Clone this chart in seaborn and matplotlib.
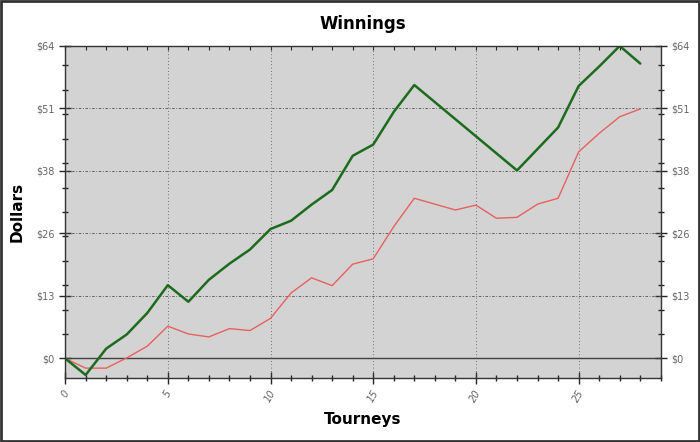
import seaborn as sns
import matplotlib.pyplot as plt
import matplotlib.ticker as mticker
import pandas as pd

# Tourney index and cumulative winnings
tourneys = list(range(29))
green = [0, -3.4, 2.0, 4.9, 9.3, 15.0, 11.6, 16.1, 19.4, 22.3, 26.5, 28.2, 31.5, 34.5,
         41.5, 43.8, 50.5, 56.0, 52.5, 49.0, 45.5, 42.0, 38.5, 42.9, 47.3, 55.8, 59.8, 64.0, 60.4]
red = [0, -2.0, -2.0, 0.1, 2.5, 6.6, 5.0, 4.4, 6.1, 5.7, 8.2, 13.4, 16.5, 14.9,
       19.3, 20.4, 27.0, 32.8, 31.6, 30.4, 31.4, 28.7, 28.9, 31.6, 32.8, 42.3, 46.1, 49.5, 51.1]

df = pd.DataFrame({'t': tourneys, 'green': green, 'red': red})

sns.set_style("white")
plt.rcParams['font.family'] = ['DejaVu Sans']

fig = plt.figure(figsize=(7, 4.42), dpi=100)
ax = fig.add_axes([0.093, 0.145, 0.851, 0.751])
ax.set_facecolor('#d3d3d3')

sns.lineplot(data=df, x='t', y='red', color='#e8605f', linewidth=1.0, ax=ax)
sns.lineplot(data=df, x='t', y='green', color='#1d6b1d', linewidth=1.8, ax=ax)

ax.axhline(0, color='#404040', linewidth=1.0, zorder=1)

ax.set_xlim(0, 29)
ax.set_ylim(-4, 64)

yticks = [0, 12.8, 25.6, 38.4, 51.2, 64]
ylabels = ['$0', '$13', '$26', '$38', '$51', '$64']
ax.set_yticks(yticks)
ax.set_yticklabels(ylabels)
ax.yaxis.set_minor_locator(mticker.MultipleLocator(5))
ax.set_xticks([0, 5, 10, 15, 20, 25])
ax.xaxis.set_minor_locator(mticker.MultipleLocator(1))

for y in yticks[1:]:
    ax.axhline(y, color='#505050', linewidth=0.6, linestyle=(0, (3, 2, 1, 2)), zorder=1)
for x in [5, 10, 15, 20, 25]:
    ax.axvline(x, color='#505050', linewidth=0.6, linestyle=(0, (1, 3)), zorder=1)

ax.tick_params(axis='y', which='major', direction='inout', length=8, width=1,
               labelsize=7, labelcolor='#666666', left=True, right=True,
               labelleft=True, labelright=True)
ax.tick_params(axis='y', which='minor', direction='inout', length=5, width=1,
               left=True, right=True)
ax.tick_params(axis='x', which='major', direction='inout', length=8, width=1,
               labelsize=7, labelcolor='#666666', bottom=True, top=False)
ax.tick_params(axis='x', which='minor', direction='inout', length=5, width=1,
               bottom=True, top=False)

# small inward ticks along the top edge
top = ax.secondary_xaxis('top')
top.set_xticks(tourneys)
top.tick_params(direction='in', length=3, width=0.8, labeltop=False)
top.spines['top'].set_visible(False)

for lab in ax.get_xticklabels():
    lab.set_rotation(60)
    lab.set_style('italic')

for s in ax.spines.values():
    s.set_color('#333333')
    s.set_linewidth(1.0)

ax.set_title('Winnings', fontsize=12, fontweight='bold', pad=12, color='black')
ax.set_xlabel('Tourneys', fontsize=11, fontweight='bold', labelpad=6, color='black')
ax.set_ylabel('Dollars', fontsize=11, fontweight='bold', labelpad=8, color='black')

# dark frame around the whole figure
fig.patches.append(plt.Rectangle((0.002, 0.003), 0.996, 0.994, transform=fig.transFigure,
                                 fill=False, edgecolor='#333333', linewidth=2))

fig.savefig('out.png', dpi=100)
